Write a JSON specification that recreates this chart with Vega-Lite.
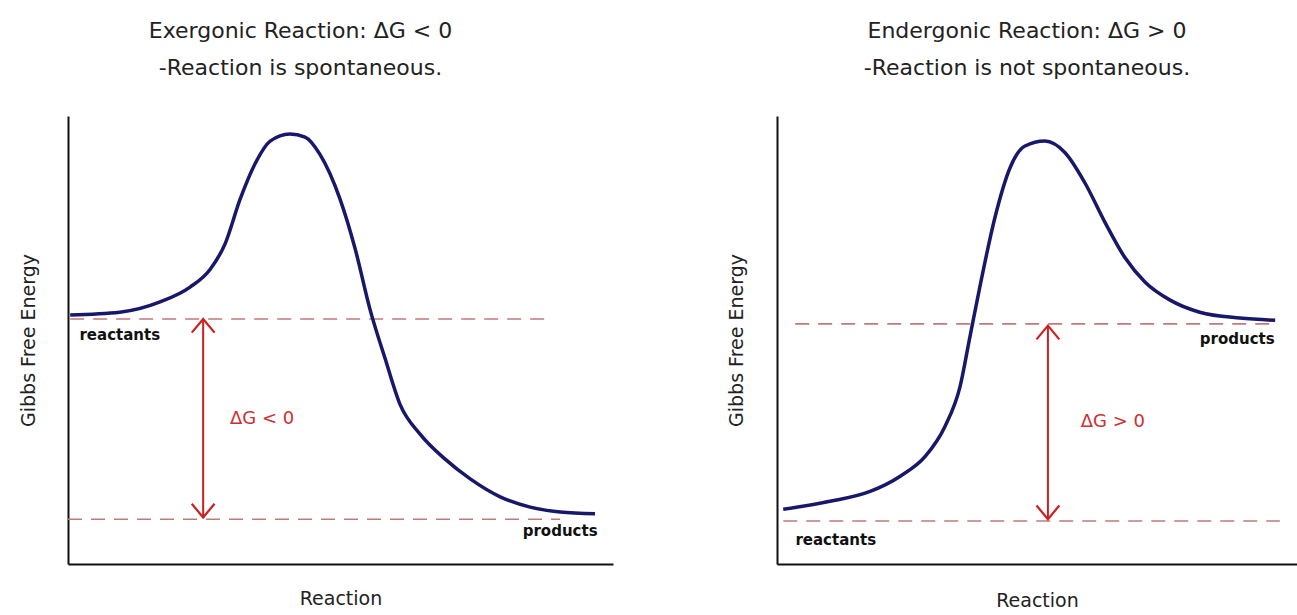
{
  "$schema": "https://vega.github.io/schema/vega-lite/v6.json",
  "background": "white",
  "padding": {"left": 19, "top": 20, "right": 0, "bottom": 0},
  "spacing": 164,
  "bounds": "flush",
  "config": {
    "view": {"stroke": null},
    "font": "DejaVu Sans",
    "axis": {"domainColor": "#111111", "domainWidth": 2, "ticks": false, "labels": false, "grid": false, "titleFont": "DejaVu Sans", "titleFontSize": 19, "titleFontWeight": "normal", "titleColor": "#222222"},
    "title": {"font": "DejaVu Sans", "subtitleFont": "DejaVu Sans", "fontSize": 22, "subtitleFontSize": 22, "fontWeight": "normal", "color": "#222222", "subtitleColor": "#222222", "anchor": "middle", "offset": 36, "subtitlePadding": 15}
  },
  "datasets": {
    "curveL": [
      {"x": 0.4, "y": 55.6}, {"x": 9.5, "y": 56.2}, {"x": 16.9, "y": 58.5}, {"x": 22.4, "y": 61.8},
      {"x": 26.1, "y": 65.8}, {"x": 28.8, "y": 71.4}, {"x": 31.6, "y": 81.5}, {"x": 34.3, "y": 89.3},
      {"x": 37.1, "y": 94.4}, {"x": 40.7, "y": 96.0}, {"x": 43.5, "y": 95.3}, {"x": 46.2, "y": 91.5},
      {"x": 49.9, "y": 81.5}, {"x": 52.7, "y": 70.3}, {"x": 55.4, "y": 56.9}, {"x": 58.2, "y": 45.8},
      {"x": 60.9, "y": 35.7}, {"x": 64.6, "y": 29.0}, {"x": 69.2, "y": 23.4}, {"x": 73.8, "y": 19.0},
      {"x": 79.3, "y": 15.0}, {"x": 84.8, "y": 12.7}, {"x": 90.3, "y": 11.6}, {"x": 96.7, "y": 11.2}
    ],
    "curveR": [
      {"x": 1.2, "y": 12.2}, {"x": 10.2, "y": 14.0}, {"x": 17.9, "y": 16.2}, {"x": 23.7, "y": 19.6},
      {"x": 28.5, "y": 24.0}, {"x": 32.3, "y": 30.7}, {"x": 35.2, "y": 39.6}, {"x": 37.1, "y": 50.7},
      {"x": 39.0, "y": 61.8}, {"x": 41.9, "y": 77.3}, {"x": 44.8, "y": 88.4}, {"x": 47.7, "y": 93.3},
      {"x": 51.5, "y": 94.4}, {"x": 55.4, "y": 91.8}, {"x": 59.2, "y": 85.1}, {"x": 63.1, "y": 76.2},
      {"x": 66.9, "y": 68.4}, {"x": 70.8, "y": 62.9}, {"x": 75.6, "y": 58.9}, {"x": 81.3, "y": 56.2},
      {"x": 89.0, "y": 54.9}, {"x": 95.8, "y": 54.4}
    ],
    "dashL": [
      {"name": "reactants", "x": 0.4, "x2": 87.5, "y": 54.7},
      {"name": "products", "x": 0.0, "x2": 90.3, "y": 10.0}
    ],
    "dashR": [
      {"name": "products", "x": 3.5, "x2": 95.8, "y": 53.6},
      {"name": "reactants", "x": 1.2, "x2": 96.7, "y": 9.6}
    ],
    "arrowL": [{"x": 24.8, "y": 54.7, "y2": 10.4}],
    "arrowR": [{"x": 52.1, "y": 53.2, "y2": 10.0}],
    "tipTopL": [{"x": 24.8, "y": 54.7}],
    "tipBotL": [{"x": 24.8, "y": 10.4}],
    "tipTopR": [{"x": 52.1, "y": 53.2}],
    "tipBotR": [{"x": 52.1, "y": 10.0}],
    "labelsL": [
      {"x": 9.5, "y": 51.1, "text": "reactants"},
      {"x": 90.3, "y": 7.4, "text": "products"}
    ],
    "labelsR": [
      {"x": 11.3, "y": 5.3, "text": "reactants"},
      {"x": 88.5, "y": 50.2, "text": "products"}
    ],
    "dgL": [{"x": 35.6, "y": 32.4, "text": "ΔG < 0"}],
    "dgR": [{"x": 64.6, "y": 31.8, "text": "ΔG > 0"}]
  },
  "hconcat": [
    {
      "width": 545,
      "height": 448,
      "title": {"text": "Exergonic Reaction: ΔG < 0", "subtitle": "-Reaction is spontaneous.", "dx": -40},
      "layer": [
        {
          "data": {"name": "dashL"},
          "mark": {"type": "rule", "color": "#c07a78", "strokeWidth": 1.6, "strokeDash": [14, 9]},
          "encoding": {
            "x": {"field": "x", "type": "quantitative", "scale": {"domain": [0, 100]}, "axis": {"title": "Reaction", "titlePadding": 25}},
            "x2": {"field": "x2"},
            "y": {"field": "y", "type": "quantitative", "scale": {"domain": [0, 100]}, "axis": {"title": "Gibbs Free Energy", "titlePadding": 30}}
          }
        },
        {
          "data": {"name": "curveL"},
          "mark": {"type": "line", "color": "#18186a", "strokeWidth": 3.5, "interpolate": "monotone"},
          "encoding": {
            "x": {"field": "x", "type": "quantitative", "scale": {"domain": [0, 100]}},
            "y": {"field": "y", "type": "quantitative", "scale": {"domain": [0, 100]}}
          }
        },
        {
          "data": {"name": "arrowL"},
          "mark": {"type": "rule", "color": "#cc2020", "strokeWidth": 2},
          "encoding": {
            "x": {"field": "x", "type": "quantitative", "scale": {"domain": [0, 100]}},
            "y": {"field": "y", "type": "quantitative", "scale": {"domain": [0, 100]}},
            "y2": {"field": "y2"}
          }
        },
        {
          "data": {"name": "tipTopL"},
          "mark": {"type": "point", "shape": "M-1,1.2L0,0L1,1.2", "filled": false, "size": 520, "color": "#cc2020", "strokeWidth": 2.2, "opacity": 1},
          "encoding": {
            "x": {"field": "x", "type": "quantitative", "scale": {"domain": [0, 100]}},
            "y": {"field": "y", "type": "quantitative", "scale": {"domain": [0, 100]}}
          }
        },
        {
          "data": {"name": "tipBotL"},
          "mark": {"type": "point", "shape": "M-1,-1.2L0,0L1,-1.2", "filled": false, "size": 520, "color": "#cc2020", "strokeWidth": 2.2, "opacity": 1},
          "encoding": {
            "x": {"field": "x", "type": "quantitative", "scale": {"domain": [0, 100]}},
            "y": {"field": "y", "type": "quantitative", "scale": {"domain": [0, 100]}}
          }
        },
        {
          "data": {"name": "labelsL"},
          "mark": {"type": "text", "fontSize": 15, "fontWeight": "bold", "color": "#111111"},
          "encoding": {
            "x": {"field": "x", "type": "quantitative", "scale": {"domain": [0, 100]}},
            "y": {"field": "y", "type": "quantitative", "scale": {"domain": [0, 100]}},
            "text": {"field": "text"}
          }
        },
        {
          "data": {"name": "dgL"},
          "mark": {"type": "text", "fontSize": 18, "color": "#cc3030"},
          "encoding": {
            "x": {"field": "x", "type": "quantitative", "scale": {"domain": [0, 100]}},
            "y": {"field": "y", "type": "quantitative", "scale": {"domain": [0, 100]}},
            "text": {"field": "text"}
          }
        }
      ]
    },
    {
      "width": 520,
      "height": 448,
      "title": {"text": "Endergonic Reaction: ΔG > 0", "subtitle": "-Reaction is not spontaneous.", "dx": -10},
      "layer": [
        {
          "data": {"name": "dashR"},
          "mark": {"type": "rule", "color": "#c07a78", "strokeWidth": 1.6, "strokeDash": [14, 9]},
          "encoding": {
            "x": {"field": "x", "type": "quantitative", "scale": {"domain": [0, 100]}, "axis": {"title": "Reaction", "titlePadding": 27}},
            "x2": {"field": "x2"},
            "y": {"field": "y", "type": "quantitative", "scale": {"domain": [0, 100]}, "axis": {"title": "Gibbs Free Energy", "titlePadding": 31}}
          }
        },
        {
          "data": {"name": "curveR"},
          "mark": {"type": "line", "color": "#18186a", "strokeWidth": 3.5, "interpolate": "monotone"},
          "encoding": {
            "x": {"field": "x", "type": "quantitative", "scale": {"domain": [0, 100]}},
            "y": {"field": "y", "type": "quantitative", "scale": {"domain": [0, 100]}}
          }
        },
        {
          "data": {"name": "arrowR"},
          "mark": {"type": "rule", "color": "#cc2020", "strokeWidth": 2},
          "encoding": {
            "x": {"field": "x", "type": "quantitative", "scale": {"domain": [0, 100]}},
            "y": {"field": "y", "type": "quantitative", "scale": {"domain": [0, 100]}},
            "y2": {"field": "y2"}
          }
        },
        {
          "data": {"name": "tipTopR"},
          "mark": {"type": "point", "shape": "M-1,1.2L0,0L1,1.2", "filled": false, "size": 520, "color": "#cc2020", "strokeWidth": 2.2, "opacity": 1},
          "encoding": {
            "x": {"field": "x", "type": "quantitative", "scale": {"domain": [0, 100]}},
            "y": {"field": "y", "type": "quantitative", "scale": {"domain": [0, 100]}}
          }
        },
        {
          "data": {"name": "tipBotR"},
          "mark": {"type": "point", "shape": "M-1,-1.2L0,0L1,-1.2", "filled": false, "size": 520, "color": "#cc2020", "strokeWidth": 2.2, "opacity": 1},
          "encoding": {
            "x": {"field": "x", "type": "quantitative", "scale": {"domain": [0, 100]}},
            "y": {"field": "y", "type": "quantitative", "scale": {"domain": [0, 100]}}
          }
        },
        {
          "data": {"name": "labelsR"},
          "mark": {"type": "text", "fontSize": 15, "fontWeight": "bold", "color": "#111111"},
          "encoding": {
            "x": {"field": "x", "type": "quantitative", "scale": {"domain": [0, 100]}},
            "y": {"field": "y", "type": "quantitative", "scale": {"domain": [0, 100]}},
            "text": {"field": "text"}
          }
        },
        {
          "data": {"name": "dgR"},
          "mark": {"type": "text", "fontSize": 18, "color": "#cc3030"},
          "encoding": {
            "x": {"field": "x", "type": "quantitative", "scale": {"domain": [0, 100]}},
            "y": {"field": "y", "type": "quantitative", "scale": {"domain": [0, 100]}},
            "text": {"field": "text"}
          }
        }
      ]
    }
  ]
}
